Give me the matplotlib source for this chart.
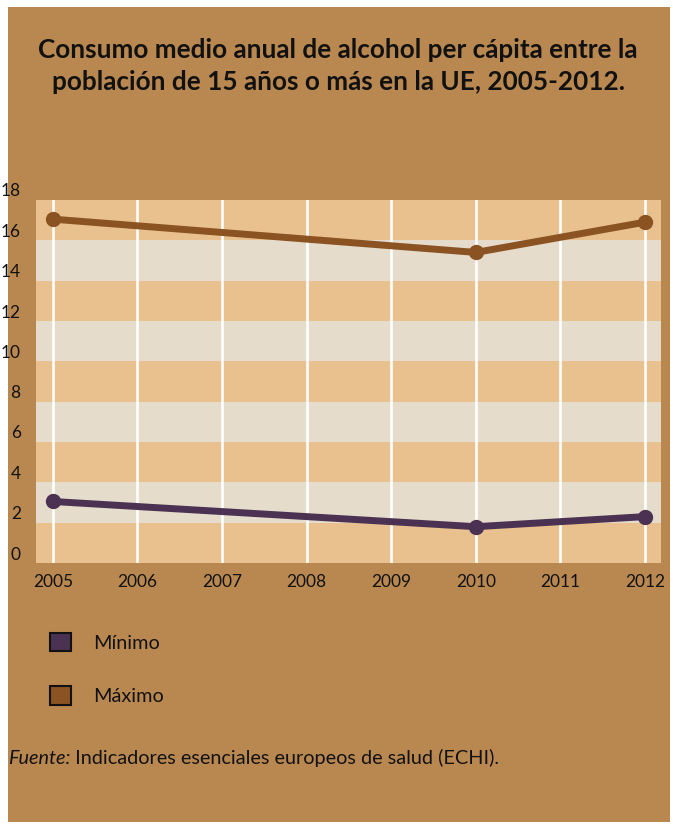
import matplotlib
matplotlib.use("Agg")
import matplotlib.pyplot as plt
import matplotlib.transforms as mtransforms
from matplotlib.patches import Rectangle, Patch

plt.rcParams['font.family'] = ['Lato', 'DejaVu Sans']

# datos
years = [2005, 2010, 2012]
minimo = [3.05, 1.8, 2.3]
maximo = [17.05, 15.4, 16.9]
year_ticks = list(range(2005, 2013))
y_ticks = list(range(0, 19, 2))

bg = '#B98850'
tan = '#E8C18E'
light = '#E5DCCB'
c_max = '#8B5322'
c_min = '#4B3253'

W, H = 673, 825
fig = plt.figure(figsize=(W / 100, H / 100), dpi=100)
fig.patch.set_facecolor('white')

# fondo marrón
fig.patches.append(Rectangle((8 / W, 1 - 822 / H), 662 / W, 815 / H,
                             transform=fig.transFigure, facecolor=bg,
                             edgecolor='none', zorder=-10))

fig.text(338 / W, 1 - 66 / H,
         'Consumo medio anual de alcohol per cápita entre la\n'
         'población de 15 años o más en la UE, 2005-2012.',
         ha='center', va='center', fontsize=18.8, fontweight='bold',
         linespacing=1.36, color='#111111')

ax = fig.add_axes([36 / W, 1 - 563 / H, (661 - 36) / W, (563 - 200) / H])
ax.set_facecolor(tan)
for k, y0 in enumerate(y_ticks[:-1]):
    ax.axhspan(y0, y0 + 2, color=tan if k % 2 == 0 else light, lw=0, zorder=0)
for yr in year_ticks:
    ax.axvline(yr, color='white', lw=1.9, zorder=1)

ax.plot(years, maximo, color=c_max, lw=5, marker='o', ms=10, zorder=3)
ax.plot(years, minimo, color=c_min, lw=5, marker='o', ms=10, zorder=3)

ax.set_xlim(2004.8, 2012.19)
ax.set_ylim(0, 18)
ax.set_xticks(year_ticks)
ax.set_yticks(y_ticks)
ax.tick_params(length=0, labelsize=12.5, colors='#111111')
ax.tick_params(axis='x', pad=8)
ax.tick_params(axis='y', pad=11)
for s in ax.spines.values():
    s.set_visible(False)

# las etiquetas del eje y están un poco por encima de las líneas
off = mtransforms.ScaledTranslation(0, 10 / 100, fig.dpi_scale_trans)
for lab in ax.get_yticklabels():
    lab.set_transform(lab.get_transform() + off)

handles = [Patch(facecolor=c_min, edgecolor='#111111', lw=1.5, label='Mínimo'),
           Patch(facecolor=c_max, edgecolor='#111111', lw=1.5, label='Máximo')]
fig.legend(handles=handles, loc='upper left', bbox_to_anchor=(50 / W, 1 - 633 / H),
           frameon=False, fontsize=14.3, handlelength=1.05, handleheight=1.05,
           handletextpad=1.1, labelspacing=1.72, borderpad=0, borderaxespad=0,
           labelcolor='#111111')

t1 = fig.text(8 / W, 1 - 758 / H, 'Fuente:', style='italic', fontweight='normal',
              fontsize=14.3, va='center', color='#111111')
ann = ax.annotate(' Indicadores esenciales europeos de salud (ECHI).', xy=(1, 0.5),
                  xycoords=t1, va='center', ha='left', fontsize=14.3,
                  color='#111111', annotation_clip=False)

fig.savefig('out.png', dpi=100, facecolor=fig.get_facecolor())
